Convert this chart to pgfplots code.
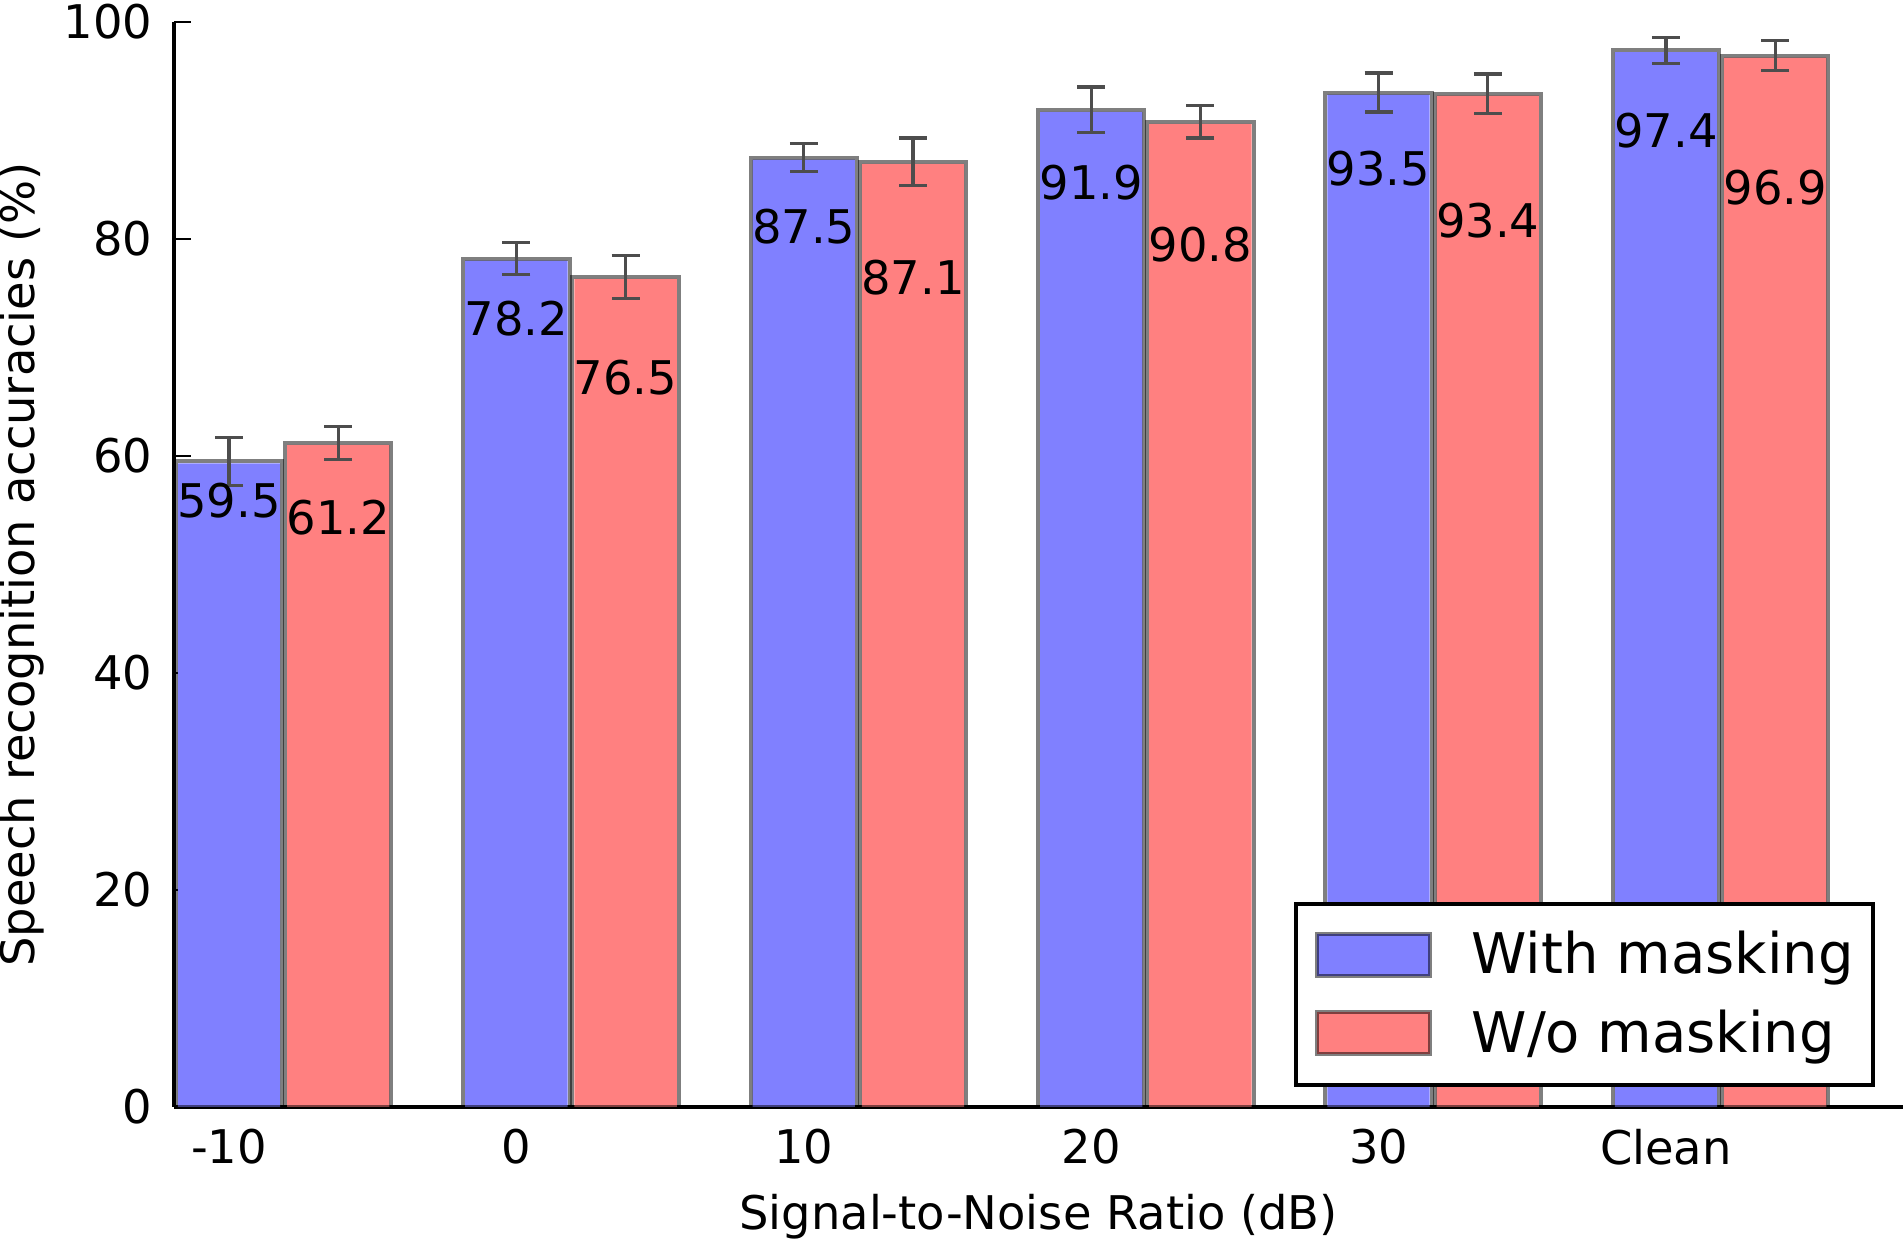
\documentclass[border=0pt]{standalone}
\usepackage{pgfplots}
\usepackage{pgfplotstable}
\pgfplotsset{compat=1.18}
\usepackage{fontspec}
\setmainfont{DejaVu Sans}
\newcommand\tickfont{\fontsize{11.6pt}{13pt}\selectfont}
\newcommand\legfont{\fontsize{14pt}{16pt}\selectfont}
\definecolor{barblue}{RGB}{128,128,255}
\definecolor{barred}{RGB}{255,128,128}
\definecolor{errc}{RGB}{77,77,77}

\pgfplotsset{
  mybarlegend/.style={legend image code/.code={\draw[##1, draw=black, draw opacity=0.5, line width=1pt] (0pt,0pt) rectangle (28.25pt,10.5pt);}},
  fillbar/.style={ybar, bar width=0.3561, bar shift=0pt, draw=none, yshift=-0.5pt, mybarlegend},
  edgebar/.style={ybar, bar width=0.37, bar shift=0pt, fill=none, draw=black, draw opacity=0.5, line width=1pt, forget plot,
    error bars/.cd, y dir=both, y explicit,
    error bar style={draw=errc, draw opacity=1, line width=0.8pt},
    error mark options={rotate=90, draw=errc, draw opacity=1, mark size=3.5pt, line width=0.8pt}},
  labplot/.style={draw=none, mark=none, forget plot, nodes near coords, point meta=explicit symbolic,
    nodes near coords style={anchor=center, inner sep=0pt, font=\tickfont, text=black}},
}

\pgfplotstableread{
x xr a ae r re la lr
0 0.38 59.5 2.2 61.2 1.5 55.9 54.3
1 1.38 78.2 1.5 76.5 2.0 72.7 67.2
2 2.38 87.5 1.3 87.1 2.2 81.1 76.4
3 3.38 91.9 2.1 90.8 1.5 85.2 79.5
4 4.38 93.5 1.8 93.4 1.8 86.5 81.7
5 5.38 97.4 1.2 96.9 1.4 90.0 84.7
}\data

\begin{document}
\begin{tikzpicture}
\begin{axis}[
  scale only axis,
  width=432.25pt, height=271.25pt,
  xmin=-0.1914, xmax=5.825,
  ymin=0, ymax=100,
  axis x line=bottom, axis y line=left,
  axis line style={-, line width=0.85pt, black},
  x axis line style={-}, y axis line style={-},
  tick align=inside,
  major tick length=4.25pt,
  tick style={black, line width=0.5pt},
  xtick={0,1,2,3,4,5},
  xticklabels={-10,0,10,20,30,Clean},
  ytick={0,20,40,60,80,100},
  /pgf/number format/assume math mode=true,
  ticklabel style={font=\tickfont},
  xticklabel style={inner sep=0pt, anchor=north, yshift=-5.25pt},
  yticklabel style={inner sep=0pt, anchor=east, xshift=-5.25pt},
  xlabel={Signal-to-Noise Ratio (dB)},
  ylabel={Speech recognition accuracies (\%)},
  xlabel style={font=\tickfont, inner sep=0pt, at={(axis description cs:0.5,-0.0799)}, anchor=north},
  ylabel style={font=\tickfont, inner sep=0pt, at={(axis description cs:-0.0746,0.5)}, anchor=south, rotate=0},
  legend style={at={(axis description cs:0.9836,0.018)}, anchor=south east,
    draw=black, line width=1pt, inner xsep=4.75pt, inner ysep=6.75pt,
    font=\legfont, row sep=7.6pt, column sep=10pt,
    nodes={inner sep=0pt}, cells={anchor=base west}},
]
\addplot[fillbar, fill=barblue] table[x=x, y=a] {\data};
\addplot[fillbar, fill=barred] table[x=xr, y=r] {\data};
\addplot[edgebar] table[x=x, y=a, y error=ae] {\data};
\addplot[edgebar] table[x=xr, y=r, y error=re] {\data};
\addplot[labplot] table[x=x, y=la, meta=a] {\data};
\addplot[labplot] table[x=xr, y=lr, meta=r] {\data};
\legend{With masking, W/o masking}
\end{axis}
\pgfresetboundingbox
\useasboundingbox (-43.5pt,-33.25pt) rectangle (432.25pt,276.75pt);
\end{tikzpicture}
\end{document}
